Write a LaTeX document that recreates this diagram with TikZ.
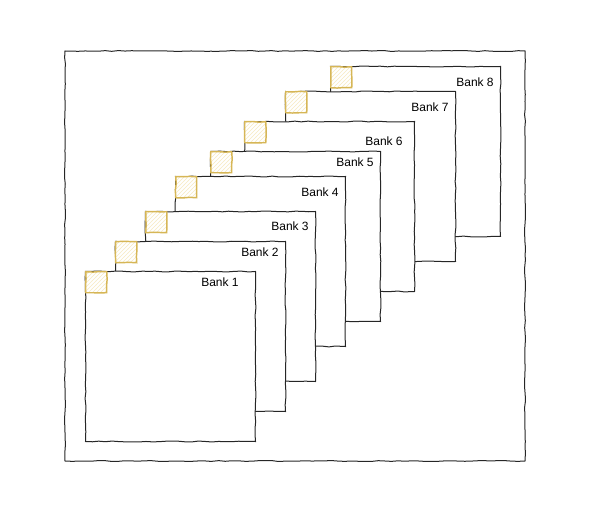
\documentclass[tikz,border=0pt]{standalone}
\usepackage{fontspec}
\setmainfont{Liberation Sans}
\usetikzlibrary{decorations.pathmorphing, patterns}

\definecolor{tagline}{HTML}{D6B656}
\definecolor{tagfill}{HTML}{F7EAC2}

\begin{document}
\begin{tikzpicture}[x=0.75pt, y=-0.75pt,
    rough/.style={decorate, decoration={random steps, segment length=5pt, amplitude=0.35pt}},
    bank/.style={draw=black!85, line width=0.75pt, fill=white, rough, minimum size=127.5pt, inner sep=0pt, anchor=north west},
    tag/.style={draw=tagline, line width=1.1pt, preaction={fill=white}, pattern=north east lines, pattern color=tagfill, rough, minimum size=15.75pt, inner sep=0pt, anchor=north west},
    lbl/.style={font=\fontsize{9}{11}\selectfont, inner sep=0pt}]

    \useasboundingbox (0,0) rectangle (599,509);

    \draw[black!85, line width=0.75pt, rough] (65,51) rectangle (525,461);

    % banks, back to front
    \node[bank] (B8) at (330,66) {};
    \node[tag] (T8) at (B8.north west) {};
    \node[lbl] (L8) at (475,82) {Bank 8};

    \node[bank] (B7) at (285,91) {};
    \node[tag] (T7) at (B7.north west) {};
    \node[lbl] (L7) at (430,107) {Bank 7};

    \node[bank] (B6) at (244,121) {};
    \node[tag] (T6) at (B6.north west) {};
    \node[lbl] (L6) at (384,141) {Bank 6};

    \node[bank] (B5) at (210,151) {};
    \node[tag] (T5) at (B5.north west) {};
    \node[lbl] (L5) at (355,162) {Bank 5};

    \node[bank] (B4) at (175,176) {};
    \node[tag] (T4) at (B4.north west) {};
    \node[lbl] (L4) at (320,192) {Bank 4};

    \node[bank] (B3) at (145,211) {};
    \node[tag] (T3) at (B3.north west) {};
    \node[lbl] (L3) at (290,226) {Bank 3};

    \node[bank] (B2) at (115,241) {};
    \node[tag] (T2) at (B2.north west) {};
    \node[lbl] (L2) at (260,252) {Bank 2};

    \node[bank] (B1) at (85,271) {};
    \node[tag] (T1) at (B1.north west) {};
    \node[lbl] (L1) at (220,282) {Bank 1};

\end{tikzpicture}
\end{document}
